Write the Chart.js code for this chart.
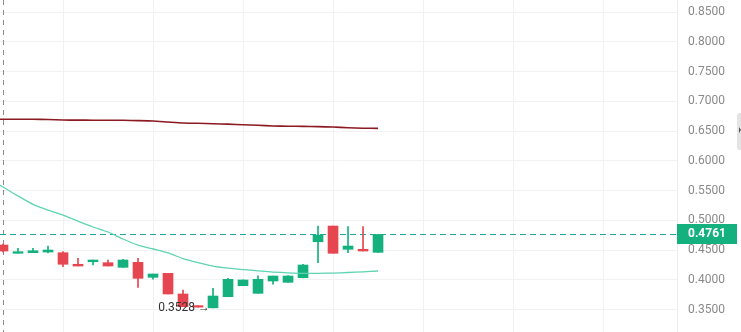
<!DOCTYPE html>
<html>
<head>
<meta charset="utf-8">
<script src="https://cdn.jsdelivr.net/npm/chart.js@4.4.1/dist/chart.umd.min.js"></script>
<style>
    html, body { margin: 0; padding: 0; background: #fff; }
    #wrap { width: 741px; height: 332px; }
</style>
</head>
<body>
<div id="wrap"><canvas id="kline" width="741" height="332"></canvas></div>
<script>
// ==================== 数据 ====================
// K线：索引 0 = 最左侧可见的蜡烛
const openPrices  = [0.4584, 0.4445, 0.4455, 0.4466, 0.4455, 0.4260, 0.4303, 0.4287, 0.4209, 0.4293,
                     0.4041, 0.4108, 0.3761, 0.3552, 0.3528, 0.3715, 0.3900, 0.3772, 0.3979, 0.3957,
                     0.4035, 0.4639, 0.4903, 0.4512, 0.4512, 0.4461];
const closePrices = [0.4483, 0.4472, 0.4488, 0.4500, 0.4260, 0.4231, 0.4332, 0.4231, 0.4332, 0.4024,
                     0.4097, 0.3761, 0.3547, 0.3540, 0.3727, 0.4007, 0.3996, 0.4007, 0.4063, 0.4063,
                     0.4248, 0.4752, 0.4445, 0.4567, 0.4483, 0.4761];
const highPrices  = [0.4600, 0.4528, 0.4528, 0.4567, 0.4472, 0.4360, 0.4332, 0.4332, 0.4344, 0.4360,
                     0.4097, 0.4108, 0.3828, 0.3560, 0.3856, 0.4024, 0.4000, 0.4068, 0.4063, 0.4070,
                     0.4260, 0.4903, 0.4903, 0.4892, 0.4892, 0.4761];
const lowPrices   = [0.4470, 0.4445, 0.4455, 0.4450, 0.4220, 0.4231, 0.4248, 0.4231, 0.4209, 0.3873,
                     0.4008, 0.3761, 0.3547, 0.3540, 0.3528, 0.3715, 0.3900, 0.3772, 0.3924, 0.3957,
                     0.4030, 0.4287, 0.4445, 0.4455, 0.4483, 0.4461];

// 均线：从索引 -1 开始（画面左边缘之外的一根）
const maSlow = [0.6697, 0.6697, 0.6697, 0.6697, 0.6693, 0.6685, 0.6683, 0.6682, 0.6680, 0.6680, 0.6675,
                0.6668, 0.6651, 0.6635, 0.6630, 0.6623, 0.6615, 0.6606, 0.6596, 0.6585, 0.6581,
                0.6578, 0.6573, 0.6567, 0.6555, 0.6547, 0.6545];
const maFast = [0.5710, 0.5559, 0.5408, 0.5268, 0.5172, 0.5088, 0.4987, 0.4887, 0.4803, 0.4685, 0.4584,
                0.4517, 0.4450, 0.4357, 0.4290, 0.4231, 0.4197, 0.4172, 0.4150, 0.4130, 0.4117,
                0.4108, 0.4108, 0.4113, 0.4122, 0.4134, 0.4147];

// 价格轴刻度
const priceTicks = [0.35, 0.40, 0.45, 0.50, 0.55, 0.60, 0.65, 0.70, 0.75, 0.80, 0.85];
// 竖向网格所在的蜡烛索引
const gridCandles = [4, 10, 16, 22, 28, 34, 40];
const lowMarkIndex = 14;

// ==================== 颜色 ====================
const UP = '#14b17e';
const DOWN = '#e5464f';
const lastClose = closePrices[closePrices.length - 1];

const candleColors = openPrices.map((o, i) => closePrices[i] >= o ? UP : DOWN);
const bodyData = openPrices.map((o, i) => ({ x: i, y: [o, closePrices[i]] }));
const wickData = openPrices.map((o, i) => ({ x: i, y: [lowPrices[i], highPrices[i]] }));
const slowData = maSlow.map((v, i) => ({ x: i - 1, y: v }));
const fastData = maFast.map((v, i) => ({ x: i - 1, y: v }));

// ==================== 叠加层插件 ====================
const overlayPlugin = {
    id: 'overlay',
    beforeDatasetsDraw(chart) {
        const { ctx, chartArea, scales } = chart;
        ctx.save();
        // 左侧灰色虚线
        const x0 = scales.x.getPixelForValue(0);
        ctx.strokeStyle = '#8c8c8c';
        ctx.lineWidth = 1;
        ctx.setLineDash([5, 5]);
        ctx.beginPath();
        ctx.moveTo(Math.round(x0) + 0.5, chartArea.top);
        ctx.lineTo(Math.round(x0) + 0.5, chartArea.bottom);
        ctx.stroke();
        // 最新价虚线
        const yLast = Math.round(scales.y.getPixelForValue(lastClose)) + 0.5;
        ctx.strokeStyle = '#22a699';
        ctx.setLineDash([6, 4]);
        ctx.beginPath();
        ctx.moveTo(chartArea.left, yLast);
        ctx.lineTo(chartArea.right, yLast);
        ctx.stroke();
        ctx.restore();
    },
    afterDraw(chart) {
        const { ctx, chartArea, scales } = chart;
        ctx.save();
        // 最低价标注
        const lx = scales.x.getPixelForValue(lowMarkIndex) - 3;
        const ly = scales.y.getPixelForValue(lowPrices[lowMarkIndex]);
        ctx.font = '12px Roboto, "Noto Sans", sans-serif';
        ctx.fillStyle = '#333';
        ctx.textAlign = 'right';
        ctx.textBaseline = 'middle';
        ctx.fillText(lowPrices[lowMarkIndex].toFixed(4) + ' →', lx, ly);
        // 最新价标签
        const yLast = scales.y.getPixelForValue(lastClose);
        ctx.fillStyle = UP;
        ctx.fillRect(chartArea.right, Math.round(yLast) - 10, 60, 20);
        ctx.fillStyle = '#fff';
        ctx.font = 'bold 12px Roboto, "Noto Sans", sans-serif';
        ctx.textAlign = 'left';
        ctx.fillText(lastClose.toFixed(4), chartArea.right + 11, Math.round(yLast));
        // 右边缘收起按钮
        ctx.fillStyle = '#e4e4e4';
        ctx.beginPath();
        ctx.roundRect(737, 113, 8, 37, 3);
        ctx.fill();
        ctx.fillStyle = '#555';
        ctx.beginPath();
        ctx.moveTo(739, 127);
        ctx.lineTo(741, 130);
        ctx.lineTo(739, 133);
        ctx.fill();
        ctx.restore();
    }
};

// ==================== 创建图表 ====================
const chart = new Chart(document.getElementById('kline'), {
    type: 'bar',
    data: {
        datasets: [
            {
                type: 'line',
                data: slowData,
                borderColor: '#8b1a22',
                borderWidth: 1.6,
                pointRadius: 0,
                tension: 0.2,
                order: 0
            },
            {
                type: 'line',
                data: fastData,
                borderColor: '#5fd4b2',
                borderWidth: 1.3,
                pointRadius: 0,
                tension: 0.2,
                order: 0
            },
            {
                data: bodyData,
                backgroundColor: candleColors,
                barThickness: 10,
                minBarLength: 1.5,
                grouped: false,
                order: 1
            },
            {
                data: wickData,
                backgroundColor: candleColors,
                barThickness: 1,
                grouped: false,
                order: 2
            }
        ]
    },
    options: {
        responsive: false,
        animation: false,
        layout: { padding: 0 },
        plugins: {
            legend: { display: false },
            tooltip: { enabled: false }
        },
        scales: {
            x: {
                type: 'linear',
                min: -0.2,
                max: 44.93,
                offset: false,
                afterBuildTicks(axis) {
                    axis.ticks = gridCandles.map(v => ({ value: v }));
                },
                afterFit(axis) {
                    axis.height = 0;
                    axis.paddingLeft = 0;
                    axis.paddingRight = 0;
                },
                ticks: { display: false },
                grid: { color: '#f2f2f2', drawTicks: false, offset: false },
                border: { display: false }
            },
            y: {
                position: 'right',
                min: 0.3122,
                max: 0.8702,
                afterBuildTicks(axis) {
                    axis.ticks = priceTicks.map(v => ({ value: v }));
                },
                afterFit(axis) {
                    axis.width = 64;
                    axis.paddingTop = 0;
                    axis.paddingBottom = 0;
                },
                ticks: {
                    color: '#8a8a8a',
                    padding: 11,
                    font: { family: 'Roboto', size: 12 },
                    callback: v => v.toFixed(4)
                },
                grid: { color: '#f2f2f2', drawTicks: false },
                border: { display: true, color: '#ececec' }
            }
        }
    },
    plugins: [overlayPlugin]
});
</script>
</body>
</html>
